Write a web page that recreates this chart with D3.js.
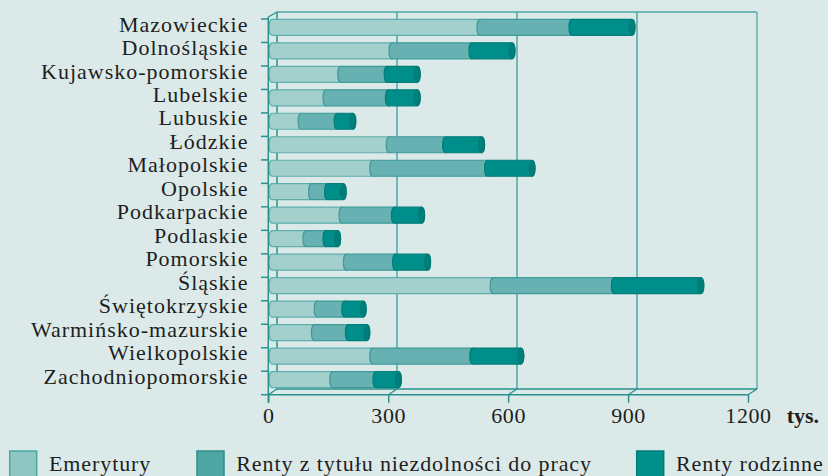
<!DOCTYPE html>
<html>
<head>
<meta charset="utf-8">
<script src="https://cdn.jsdelivr.net/npm/d3@7"></script>
<style>
  html, body { margin: 0; padding: 0; background: #dbeae9; }
  svg { display: block; }
  text { font-family: "Liberation Serif", "Times New Roman", serif; fill: #1e1e1e; }
</style>
</head>
<body>
<div id="viz"></div>
<script>
const regions = ["Mazowieckie", "Dolnośląskie", "Kujawsko-pomorskie", "Lubelskie", "Lubuskie",
  "Łódzkie", "Małopolskie", "Opolskie", "Podkarpackie", "Podlaskie", "Pomorskie", "Śląskie",
  "Świętokrzyskie", "Warmińsko-mazurskie", "Wielkopolskie", "Zachodniopomorskie"];

// tys. osób
const emerytury = [520, 300, 172, 135, 73, 293, 252, 99, 175, 85, 186, 553, 113, 106, 252, 152];
const rentyNiezdolnosc = [230, 200, 116, 156, 90, 141, 287, 40, 131, 50, 123, 303, 69, 85, 250, 108];
const rentyRodzinne = [150, 100, 75, 72, 39, 90, 111, 39, 68, 29, 80, 216, 46, 46, 120, 56];

const seriesNames = ["Emerytury", "Renty z tytułu niezdolności do pracy", "Renty rodzinne"];
const xTicks = [0, 300, 600, 900, 1200];

const w = 828, h = 476;
const svg = d3.select("#viz")
  .append("svg")
  .attr("width", w)
  .attr("height", h);

const barFill = ["#a3cfcd", "#68b1b2", "#008e8a"];
const barStroke = ["#5eaeab", "#3c9b99", "#007e7a"];
const legendFill = ["#8fc5c3", "#4ea6a4", "#009089"];
const legendStroke = ["#4aa8a3", "#2b8f8b", "#007d77"];
const axisColor = "#2a918c";
const gridColor = "#4ca9a5";

// front plane, back wall, and bar depth
const xFront = d3.scaleLinear().domain([0, 1200]).range([268.3, 748]);
const xBack = d3.scaleLinear().domain([0, 1200]).range([277, 757]);
const xBar = d3.scaleLinear().domain([0, 1200]).range([272, 752]);
const yBand = d3.scaleBand().domain(regions).range([19, 394.7]);
const dy = -5.7; // back wall offset
const backTop = 12, backBottom = 394.7 + dy;

// back wall
const g = svg.append("g");
g.append("line")
  .attr("x1", xBack(0)).attr("x2", xBack(1200))
  .attr("y1", backTop).attr("y2", backTop)
  .attr("stroke", gridColor).attr("stroke-width", 1.5);
g.selectAll(".grid")
  .data(xTicks.slice(1))
  .enter()
  .append("line")
  .attr("x1", d => xBack(d)).attr("x2", d => xBack(d))
  .attr("y1", backTop).attr("y2", backBottom)
  .attr("stroke", d => d === 1200 ? "#62b1ad" : gridColor)
  .attr("stroke-width", 1.5);
g.append("line")
  .attr("x1", xBack(0)).attr("x2", xBack(0))
  .attr("y1", backTop).attr("y2", backBottom)
  .attr("stroke", axisColor).attr("stroke-width", 1.5);
g.append("line")
  .attr("x1", xBack(0)).attr("x2", xBack(1200))
  .attr("y1", backBottom).attr("y2", backBottom)
  .attr("stroke", axisColor).attr("stroke-width", 1.5);

// floor diagonals
g.selectAll(".diag")
  .data(xTicks)
  .enter()
  .append("line")
  .attr("x1", d => xFront(d)).attr("y1", 394.7)
  .attr("x2", d => xBack(d)).attr("y2", backBottom)
  .attr("stroke", axisColor).attr("stroke-width", 1.3);
g.append("line")
  .attr("x1", xFront(0)).attr("y1", 17)
  .attr("x2", xBack(0)).attr("y2", backTop)
  .attr("stroke", axisColor).attr("stroke-width", 1.3);

// bars
const segPath = function (x0, x1, cy, rx, ry) {
  return "M" + x0 + "," + (cy - ry) +
    " A" + rx + "," + ry + " 0 0 0 " + x0 + "," + (cy + ry) +
    " L" + x1 + "," + (cy + ry) +
    " A" + rx + "," + ry + " 0 0 0 " + x1 + "," + (cy - ry) + " Z";
};

const rows = regions.map((r, i) => {
  const a = emerytury[i], b = a + rentyNiezdolnosc[i], c = b + rentyRodzinne[i];
  return { region: r, stops: [0, a, b, c] };
});
const barCy = d => yBand(d.region) + yBand.bandwidth() / 2 - 3.4;

const bars = svg.selectAll(".bar")
  .data(rows)
  .enter()
  .append("g")
  .attr("class", "bar");

[0, 1, 2].forEach(k => {
  bars.append("path")
    .attr("d", d => segPath(xBar(d.stops[k]), xBar(d.stops[k + 1]), barCy(d), 3, 8))
    .attr("fill", barFill[k])
    .attr("stroke", barStroke[k])
    .attr("stroke-width", 1.2);
});
bars.append("ellipse")
  .attr("cx", d => xBar(d.stops[3]))
  .attr("cy", d => barCy(d))
  .attr("rx", 3).attr("ry", 8)
  .attr("fill", "#007f7a")
  .attr("stroke", "#007a75")
  .attr("stroke-width", 1);

// front axes
svg.append("line")
  .attr("x1", xFront(0)).attr("x2", xFront(0))
  .attr("y1", 17).attr("y2", 402.7)
  .attr("stroke", axisColor).attr("stroke-width", 1.5);
svg.append("line")
  .attr("x1", xFront(0)).attr("x2", xFront(1200))
  .attr("y1", 394.7).attr("y2", 394.7)
  .attr("stroke", axisColor).attr("stroke-width", 1.5);

const xAxis = d3.axisBottom(xFront)
  .tickValues(xTicks)
  .tickSize(8)
  .tickPadding(6)
  .tickFormat(d3.format("d"));
const xg = svg.append("g")
  .attr("transform", "translate(0,394.7)")
  .call(xAxis);
xg.select(".domain").remove();
xg.selectAll(".tick line").attr("stroke", axisColor).attr("stroke-width", 1.5);
xg.selectAll(".tick text")
  .attr("y", 28.3).attr("dy", null)
  .style("font-family", "'Liberation Serif', serif")
  .style("font-size", "22px")
  .style("letter-spacing", "0.6px")
  .attr("fill", "#1e1e1e");

svg.append("text")
  .attr("x", 786.7).attr("y", 423)
  .style("font-size", "22px")
  .style("font-weight", "bold")
  .text("tys.");

// left ticks at band boundaries
const bounds = regions.map(r => yBand(r)).concat([394.7]);
svg.selectAll(".ltick")
  .data(bounds)
  .enter()
  .append("line")
  .attr("x1", 261).attr("x2", xFront(0))
  .attr("y1", d => d).attr("y2", d => d)
  .attr("stroke", axisColor).attr("stroke-width", 1.5);

svg.selectAll(".rlabel")
  .data(regions)
  .enter()
  .append("text")
  .attr("x", 248.5)
  .attr("y", d => yBand(d) + yBand.bandwidth() / 2 + 0.8)
  .attr("text-anchor", "end")
  .style("font-size", "22px")
  .style("letter-spacing", "1px")
  .text(d => d);

// legend
const legendX = [9.7, 197, 636.7];
const legend = svg.selectAll(".legend")
  .data(seriesNames)
  .enter()
  .append("g")
  .attr("transform", (d, i) => "translate(" + legendX[i] + ",451)");
legend.append("rect")
  .attr("width", 27).attr("height", 27)
  .attr("fill", (d, i) => legendFill[i])
  .attr("stroke", (d, i) => legendStroke[i])
  .attr("stroke-width", 1.5);
legend.append("text")
  .attr("x", 39.3).attr("y", 20)
  .style("font-size", "22px")
  .style("letter-spacing", "0.9px")
  .text(d => d);
</script>
</body>
</html>
